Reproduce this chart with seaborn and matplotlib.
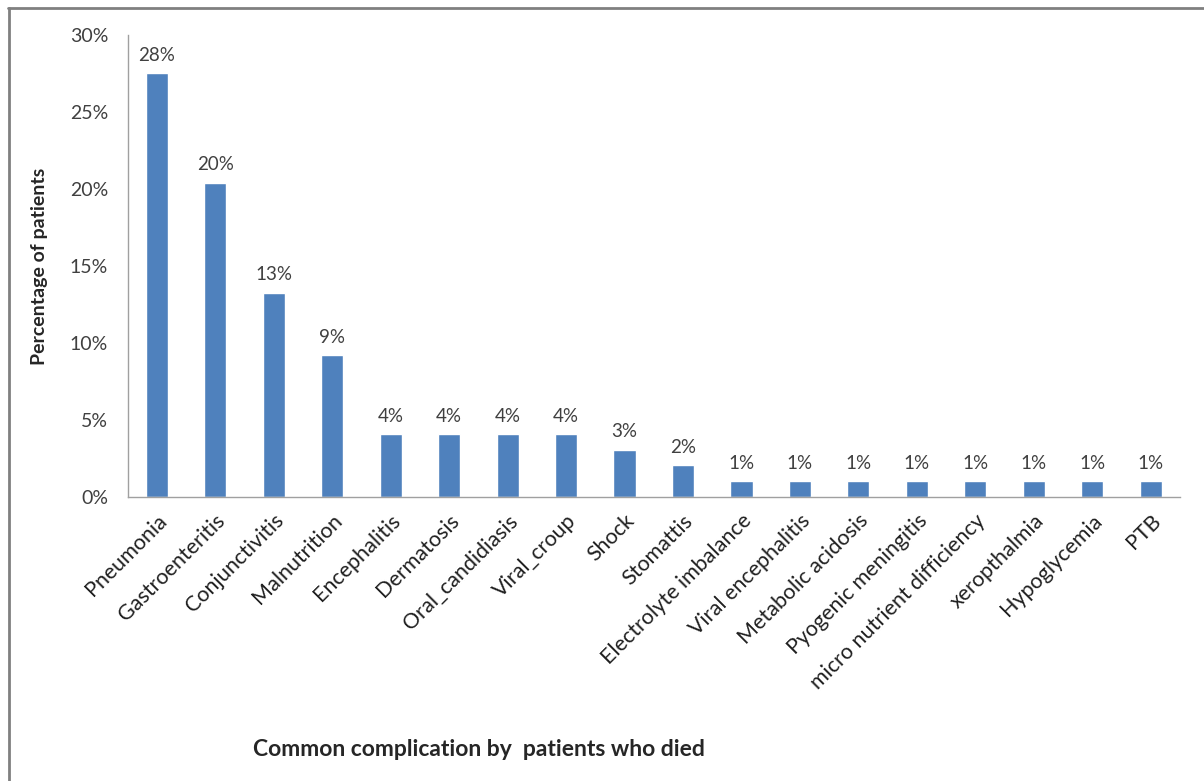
import matplotlib
matplotlib.use("Agg")
import matplotlib.pyplot as plt
import seaborn as sns
import numpy as np
import pandas as pd
from matplotlib.lines import Line2D
from matplotlib.ticker import PercentFormatter, FixedLocator

# complications among patients who died (share of patients)
complications = [
    "Pneumonia", "Gastroenteritis", "Conjunctivitis", "Malnutrition",
    "Encephalitis", "Dermatosis", "Oral_candidiasis", "Viral_croup",
    "Shock", "Stomattis", "Electrolyte imbalance", "Viral encephalitis",
    "Metabolic acidosis", "Pyogenic meningitis", "micro nutrient difficiency",
    "xeropthalmia", "Hypoglycemia", "PTB",
]
share = [0.2755, 0.2041, 0.1327, 0.0918, 0.0408, 0.0408, 0.0408, 0.0408,
         0.0306, 0.0204, 0.0102, 0.0102, 0.0102, 0.0102, 0.0102, 0.0102,
         0.0102, 0.0102]
yticks = [0, 0.05, 0.10, 0.15, 0.20, 0.25, 0.30]

df = pd.DataFrame({"complication": complications, "share": share})

sns.set_style("white")
plt.rcParams["font.family"] = ["Lato", "DejaVu Sans"]

fig = plt.figure(figsize=(12.04, 7.81), dpi=100)
ax = fig.add_axes([0.106, 0.364, 0.874, 0.591])

sns.barplot(data=df, x="complication", y="share", color="#4F81BD",
            saturation=1, width=0.38, ax=ax)

# value labels above bars
for i, v in enumerate(share):
    ax.text(i, v + 0.006, f"{v:.0%}", ha="center", va="bottom",
            fontsize=13.5, color="#404040")

ax.set_ylim(0, 0.30)
ax.set_xlim(-0.5, len(complications) - 0.5)
ax.yaxis.set_major_locator(FixedLocator(yticks))
ax.yaxis.set_major_formatter(PercentFormatter(1.0, decimals=0))

# ticks between categories like the original
ax.set_xticks(np.arange(len(complications)))
ax.set_xticks(np.arange(-0.5, len(complications), 1.0), minor=True)
ax.tick_params(axis="x", which="major", length=0, pad=10)
ax.tick_params(axis="x", which="minor", length=6, color="#A0A0A0", width=1)
ax.tick_params(axis="y", length=6, color="#A0A0A0", width=1, labelsize=14,
               labelcolor="#404040", pad=8)
ax.set_xticklabels(complications, rotation=45, ha="right",
                   rotation_mode="anchor", fontsize=15.5, color="#202020")

for side in ["top", "right"]:
    ax.spines[side].set_visible(False)
for side in ["left", "bottom"]:
    ax.spines[side].set_color("#A0A0A0")
    ax.spines[side].set_linewidth(1)

ax.set_xlabel("")
ax.set_ylabel("Percentage of patients", fontsize=14, fontweight="bold",
              labelpad=16)

fig.text(0.21, 0.04, "Common complication by  patients who died",
         fontsize=16.5, fontweight="bold", ha="left", va="center")

# outer frame (top and left edges visible)
fig.add_artist(Line2D([0.007, 1.0], [0.99, 0.99], color="#808080", lw=2))
fig.add_artist(Line2D([0.0075, 0.0075], [0.0, 0.99], color="#808080", lw=2))

fig.savefig("out.png", dpi=100)
